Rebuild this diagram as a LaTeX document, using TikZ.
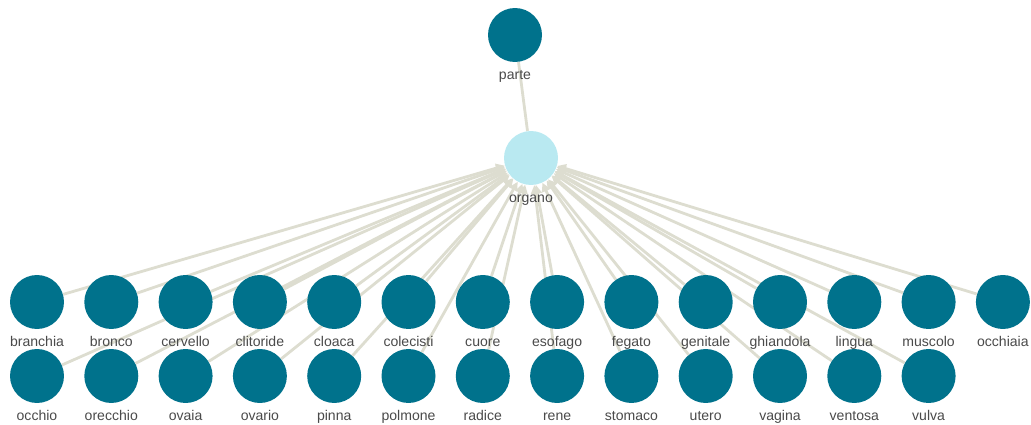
\documentclass[tikz,border=0pt]{standalone}
\usepackage{fontspec}
\setmainfont{Liberation Sans}
\usetikzlibrary{arrows.meta,backgrounds}

\definecolor{nodeteal}{HTML}{00728C}
\definecolor{hubcyan}{HTML}{B9E9F1}
\definecolor{edgebeige}{HTML}{DDDDD0}
\definecolor{labelgray}{HTML}{4A4A4A}

\begin{document}
\begin{tikzpicture}[
    x=0.02cm, y=-0.02cm,
    every label/.style={
        font=\fontsize{8}{9}\selectfont,
        text=labelgray,
        inner sep=1pt,
        text height=1.6ex,
        text depth=0.4ex,
        label distance=0pt
    },
    concept/.style={
        circle,
        fill=nodeteal,
        minimum size=1.08cm,
        inner sep=0pt
    },
    hub/.style={concept, fill=hubcyan},
    edge/.style={draw=edgebeige, line width=1.6pt},
    arrow/.style={edge, -{Triangle[length=5pt,width=5pt]}}
]
\useasboundingbox (0,0) rectangle (1031,425);

\node[concept, label=below:parte] (parte) at (515,35) {};
\node[hub, label=below:organo] (organo) at (531,158) {};

% first row
\foreach \name [count=\i from 0] in {branchia,bronco,cervello,clitoride,cloaca,colecisti,cuore,esofago,fegato,genitale,ghiandola,lingua,muscolo,occhiaia}
    \node[concept, label=below:\name] (\name) at ({37+74.3*\i},302) {};

% second row
\foreach \name [count=\i from 0] in {occhio,orecchio,ovaia,ovario,pinna,polmone,radice,rene,stomaco,utero,vagina,ventosa,vulva}
    \node[concept, label=below:\name] (\name) at ({37+74.3*\i},376) {};

\begin{scope}[on background layer]
\draw[edge] (parte) -- (organo);
\foreach \name in {branchia,bronco,cervello,clitoride,cloaca,colecisti,cuore,esofago,fegato,genitale,ghiandola,lingua,muscolo,occhiaia,occhio,orecchio,ovaia,ovario,pinna,polmone,radice,rene,stomaco,utero,vagina,ventosa,vulva}
    \draw[arrow] (\name) -- (organo);
\end{scope}

\end{tikzpicture}
\end{document}
